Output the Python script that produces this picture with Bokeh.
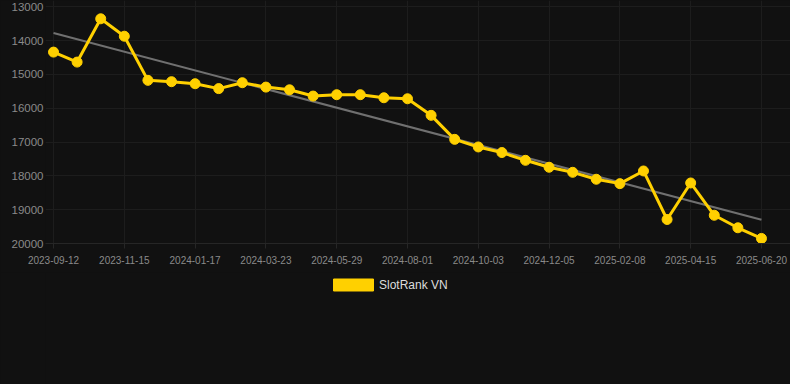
import numpy as np
from bokeh.plotting import figure
from bokeh.layouts import column
from bokeh.models import Range1d, FixedTicker, Legend, LegendItem, ColumnDataSource
from bokeh.embed import file_html
from bokeh.resources import INLINE

# ---- data ----
tick_labels = ["2023-09-12", "2023-11-15", "2024-01-17", "2024-03-23", "2024-05-29",
               "2024-08-01", "2024-10-03", "2024-12-05", "2025-02-08", "2025-04-15",
               "2025-06-20"]
ranks = [14340, 14635, 13355, 13870, 15175, 15215, 15275, 15420, 15245, 15375,
         15455, 15640, 15600, 15600, 15690, 15720, 16210, 16920, 17145, 17310,
         17540, 17745, 17895, 18100, 18230, 17855, 19290, 18210, 19165, 19535,
         19850]
series_name = "SlotRank VN"
y_ticks = [13000, 14000, 15000, 16000, 17000, 18000, 19000, 20000]

idx = list(range(len(ranks)))
tick_pos = idx[::3]

BG = "#111111"
GRID = "#1d1d1d"
TXT = "#8a8a8a"
GOLD = "#ffd000"
FONT = "Liberation Sans"

p = figure(width=790, height=272, output_backend="svg", toolbar_location=None,
           x_range=Range1d(-0.34, 31.23), y_range=Range1d(20000, 12814),
           min_border_left=45, min_border_right=0, min_border_top=0, min_border_bottom=29)
p.background_fill_color = BG
p.border_fill_color = BG
p.outline_line_color = None

# axes
p.xaxis.ticker = FixedTicker(ticks=tick_pos)
p.xaxis.major_label_overrides = {i: lab for i, lab in zip(tick_pos, tick_labels)}
p.xaxis.major_label_text_font = FONT
p.xaxis.major_label_text_font_size = "10px"
p.xaxis.major_label_text_color = TXT
p.xaxis.axis_line_color = "#262626"
p.xaxis.major_tick_line_color = "#262626"
p.xaxis.major_tick_out = 5
p.xaxis.major_tick_in = 0
p.xaxis.minor_tick_line_color = None
p.xaxis.major_label_standoff = 7

p.yaxis.ticker = FixedTicker(ticks=y_ticks)
p.yaxis.major_label_text_font = FONT
p.yaxis.major_label_text_font_size = "11.5px"
p.yaxis.major_label_text_color = TXT
p.yaxis.axis_line_color = None
p.yaxis.major_tick_line_color = None
p.yaxis.major_tick_out = 0
p.yaxis.major_tick_in = 0
p.yaxis.minor_tick_line_color = None
p.yaxis.minor_tick_out = 0
p.yaxis.major_label_standoff = 2

p.xgrid.ticker = FixedTicker(ticks=tick_pos)
p.ygrid.ticker = FixedTicker(ticks=y_ticks)
p.xgrid.grid_line_color = GRID
p.ygrid.grid_line_color = GRID

# trend line (least squares fit of the series)
coef = np.polyfit(idx, ranks, 1)
trend_x = [idx[0], idx[-1]]
trend_y = [coef[1] + coef[0] * idx[0], coef[1] + coef[0] * idx[-1]]
p.line(trend_x, trend_y, line_color="#707070", line_width=2)

src = ColumnDataSource(dict(x=idx, y=ranks))
p.line("x", "y", source=src, line_color=GOLD, line_width=3)
p.scatter("x", "y", source=src, size=10, fill_color=GOLD, line_color=GOLD)

# ---- legend strip ----
q = figure(width=790, height=112, output_backend="svg", toolbar_location=None,
           x_range=Range1d(0, 1), y_range=Range1d(0, 1),
           min_border_left=0, min_border_right=0, min_border_top=0, min_border_bottom=0)
q.axis.visible = False
q.grid.visible = False
q.background_fill_color = BG
q.border_fill_color = BG
q.outline_line_color = None
leg_r = q.rect(x=[np.nan], y=[np.nan], width=1, height=1, fill_color=GOLD, line_color=GOLD)
legend = Legend(items=[LegendItem(label=series_name, renderers=[leg_r])],
                location=(283, 92), orientation="horizontal",
                glyph_width=50, glyph_height=15, label_height=12,
                label_standoff=1, padding=0, margin=0, spacing=0,
                background_fill_alpha=0, border_line_color=None,
                label_text_font=FONT, label_text_font_size="12px",
                label_text_color="#dddddd")
q.add_layout(legend, "center")

layout = column(p, q, spacing=0)

html = file_html(layout, INLINE)
html = html.replace("</head>",
                    "<style>html,body{margin:0 !important;padding:0;background:#111111;overflow:hidden}</style></head>", 1)
open("out.html", "w").write(html)
